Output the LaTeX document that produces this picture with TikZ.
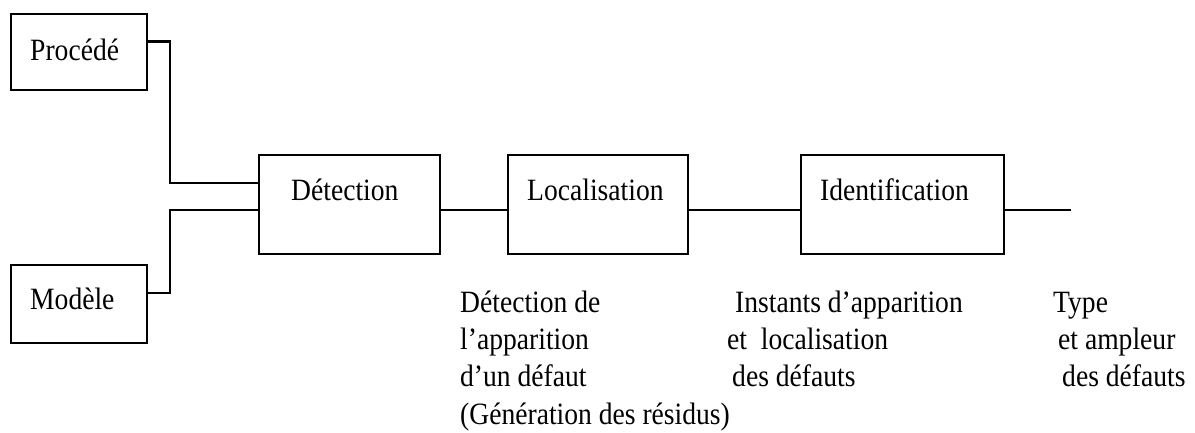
\documentclass[tikz,border=0pt]{standalone}
\usepackage{fontspec}
\setmainfont{Liberation Serif}[FakeStretch=0.89]
\begin{document}
\begin{tikzpicture}[x=1pt,y=-1pt,
  box/.style={draw,line width=2.5pt,rectangle,inner sep=0pt},
  lbl/.style={inner sep=0pt,anchor=base west,font=\fontsize{31}{37}\selectfont},
  wire/.style={line width=2.5pt}]
\useasboundingbox (0,0) rectangle (1195,432);

% blocks
\node[box,minimum width=136,minimum height=76] (proc) at (79,52) {};
\node[box,minimum width=136,minimum height=78] (mod) at (79,304) {};
\node[box,minimum width=181,minimum height=99] (det) at (349.5,204.5) {};
\node[box,minimum width=180,minimum height=99] (loc) at (598,204.5) {};
\node[box,minimum width=203,minimum height=99] (ident) at (902.5,204.5) {};

% block titles
\node[lbl] (tproc) at (30,60) {Procédé};
\node[lbl] (tmod) at (30,309) {Modèle};
\node[lbl] (tdet) at (291,200) {Détection};
\node[lbl] (tloc) at (527,200) {Localisation};
\node[lbl] (tident) at (820,200) {Identification};

% connections
\coordinate (pout) at (147,41.7);
\coordinate (pbend) at (170,183);
\coordinate (mout) at (147,293);
\coordinate (mbend) at (170,210);
\coordinate (fin) at (1071,210);
\draw[wire] (pout) -| (pbend) -- (det.west |- pbend);
\draw[wire] (mout) -| (mbend) -- (det.west |- mbend);
\draw[wire] (det.east |- mbend) -- (loc.west |- mbend);
\draw[wire] (loc.east |- mbend) -- (ident.west |- mbend);
\draw[wire] (ident.east |- fin) -- (fin);

% outputs of each stage
\node[lbl] (a1) at (460,312) {Détection de};
\node[lbl] (a2) at (460,349) {l’apparition};
\node[lbl] (a3) at (460,386) {d’un défaut};
\node[lbl] (a4) at (460,424) {(Génération des résidus)};

\node[lbl] (b1) at (735,312) {Instants d’apparition};
\node[lbl] (b2) at (727,349) {et\ \ localisation};
\node[lbl] (b3) at (732,386) {des défauts};

\node[lbl] (c1) at (1053,312) {Type};
\node[lbl] (c2) at (1058,349) {et ampleur};
\node[lbl] (c3) at (1062,386) {des défauts};
\end{tikzpicture}
\end{document}
